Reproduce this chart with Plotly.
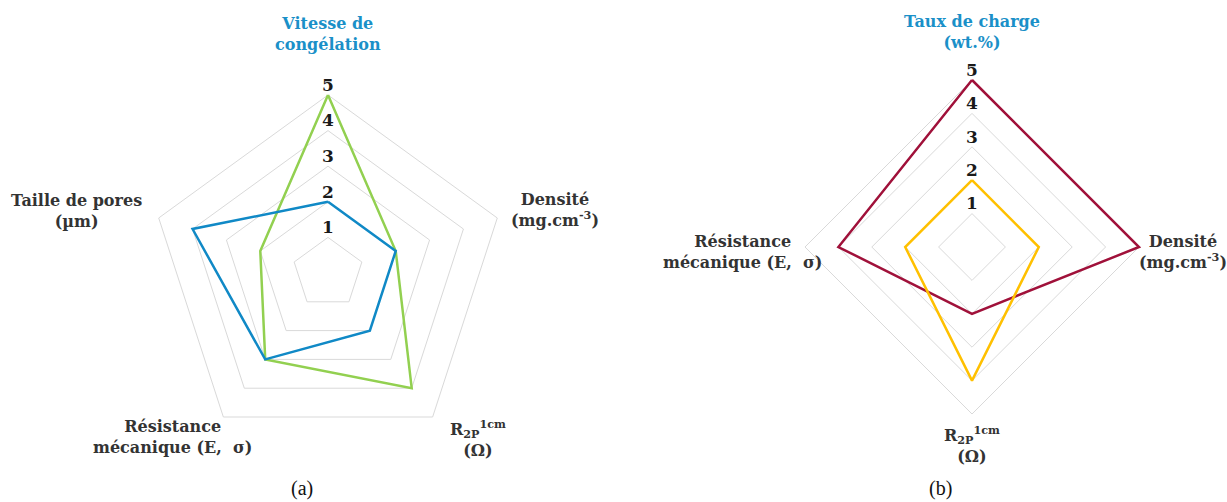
import plotly.graph_objects as go

# ---------------- data ----------------
cats_a = ["Vitesse de congélation", "Densité", "R2P 1cm", "Résistance mécanique", "Taille de pores"]
green_a = [5, 2, 4, 3, 2]
blue_a = [2, 2, 2, 3, 4]

cats_b = ["Taux de charge", "Densité", "R2P 1cm", "Résistance mécanique"]
red_b = [5, 5, 2, 4]
yellow_b = [2, 2, 4, 2]

ticks = [1, 2, 3, 4, 5]

labels_a = ["Vitesse de<br>congélation", "Densité<br>(mg.cm<sup>-3</sup>)",
            "R<sub>2P</sub><sup>1cm</sup><br>(Ω)", "Résistance<br>mécanique (E,  σ)",
            "Taille de pores<br>(µm)"]
labels_b = ["Taux de charge<br>(wt.%)", "Densité<br>(mg.cm<sup>-3</sup>)",
            "R<sub>2P</sub><sup>1cm</sup><br>(Ω)", "Résistance<br>mécanique (E,  σ)"]

# ---------------- style ----------------
W, H = 1227, 502
GREEN = "#92d050"
BLUE = "#1089c6"
RED = "#a0113a"
YELLOW = "#ffc000"
GRID = "#d9d9d9"
TITLE_BLUE = "#1a90c8"
TXT = "#333333"
FONT = "DejaVu Serif"
RMAX = 5.15  # small headroom so lines on the outer ring are not clipped


def closed(v):
    return list(v) + [v[0]]


fig = go.Figure()

for cats, vals, col, sub in [(cats_a, green_a, GREEN, "polar"), (cats_a, blue_a, BLUE, "polar"),
                             (cats_b, red_b, RED, "polar2"), (cats_b, yellow_b, YELLOW, "polar2")]:
    fig.add_trace(go.Scatterpolar(r=closed(vals), theta=closed(cats), mode="lines",
                                  line=dict(color=col, width=2.5), subplot=sub, cliponaxis=False,
                                  showlegend=False, hoverinfo="skip"))

for cats, sub in [(cats_a, "polar"), (cats_b, "polar2")]:
    fig.add_trace(go.Scatterpolar(r=ticks, theta=[cats[0]] * len(ticks), mode="text",
                                  text=[str(t) for t in ticks], textposition="top center",
                                  textfont=dict(family=FONT, size=17, color="#1a1a1a", weight="bold"),
                                  subplot=sub, showlegend=False, hoverinfo="skip", cliponaxis=False))


def polar_layout(cx, cy, r5, cats):
    R = r5 * RMAX / 5
    return dict(
        domain=dict(x=[(cx - R) / W, (cx + R) / W], y=[1 - (cy + R) / H, 1 - (cy - R) / H]),
        gridshape="linear", bgcolor="rgba(0,0,0,0)",
        radialaxis=dict(range=[0, RMAX], tickvals=ticks, showticklabels=False, ticks="",
                        showline=False, gridcolor=GRID, gridwidth=1),
        angularaxis=dict(rotation=90, direction="clockwise", categoryarray=cats, type="category",
                         showgrid=False, showticklabels=False, ticks="", showline=False),
    )


fig.update_layout(
    width=W, height=H, margin=dict(l=0, r=0, t=0, b=0),
    paper_bgcolor="white", plot_bgcolor="white",
    polar=polar_layout(328, 273, 178, cats_a),
    polar2=polar_layout(972, 247, 167, cats_b),
)


def ann(text, x, y, color=TXT, size=16, bold=True, family=FONT):
    fig.add_annotation(text=text, x=x / W, y=1 - y / H, xref="paper", yref="paper",
                       showarrow=False, xanchor="center", yanchor="middle", align="center",
                       font=dict(family=family, size=size, color=color,
                                 weight="bold" if bold else "normal"))


# axis labels, chart (a)
pos_a = [(328, 34), (555, 210), (478, 438), (172, 437), (76, 211)]
for i, (lab, (x, y)) in enumerate(zip(labels_a, pos_a)):
    ann(lab, x, y, color=TITLE_BLUE if i == 0 else TXT)

# axis labels, chart (b)
pos_b = [(972, 32), (1183, 252), (972, 444), (742, 252)]
for i, (lab, (x, y)) in enumerate(zip(labels_b, pos_b)):
    ann(lab, x, y, color=TITLE_BLUE if i == 0 else TXT)

ann("(a)", 302, 488, color="#111111", size=20, bold=False, family="Liberation Serif")
ann("(b)", 940, 488, color="#111111", size=20, bold=False, family="Liberation Serif")

fig.write_html("out.html", config={"displayModeBar": False},
               post_script="document.body.style.margin='0';document.body.style.overflow='hidden';")
